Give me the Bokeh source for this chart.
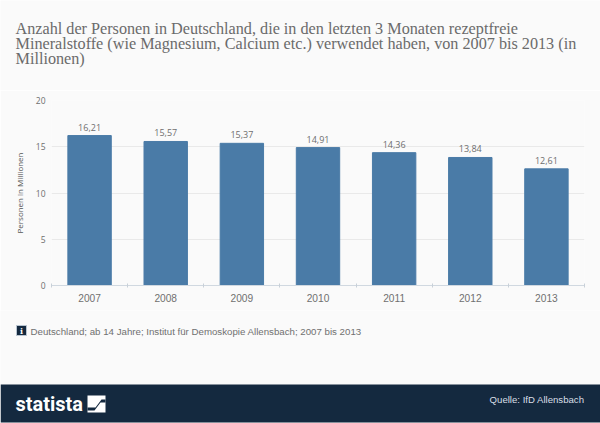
from bokeh.plotting import figure
from bokeh.models import ColumnDataSource, FixedTicker, Range1d
from bokeh.core.properties import value
from bokeh.embed import file_html
from bokeh.resources import INLINE

years = [2007, 2008, 2009, 2010, 2011, 2012, 2013]
values = [16.21, 15.57, 15.37, 14.91, 14.36, 13.84, 12.61]
labels = ["16,21", "15,57", "15,37", "14,91", "14,36", "13,84", "12,61"]
y_ticks = [0, 5, 10, 15, 20]
title_lines = [
    "Anzahl der Personen in Deutschland, die in den letzten 3 Monaten rezeptfreie",
    "Mineralstoffe (wie Magnesium, Calcium etc.) verwendet haben, von 2007 bis 2013 (in",
    "Millionen)",
]
note = "Deutschland; ab 14 Jahre; Institut für Demoskopie Allensbach; 2007 bis 2013"
source_text = "Quelle: IfD Allensbach"
y_title = "Personen in Millionen"

W = 600
BG = "#fafafa"
NAVY = "#14293f"
HEAD_H, CHART_H, FOOT_H = 90, 220, 113


def place(f, top):
    f.styles = {"position": "absolute", "left": "0px", "top": f"{top}px"}


def panel(h, y0):
    f = figure(width=W, height=h, output_backend="svg", toolbar_location=None,
               x_range=Range1d(0, W), y_range=Range1d(y0 + h, y0), x_axis_type=None, y_axis_type=None,
               min_border_left=0, min_border_right=0, min_border_top=0, min_border_bottom=0)
    f.background_fill_color = BG
    f.background_fill_alpha = 1
    f.border_fill_color = BG
    f.border_fill_alpha = 1
    f.outline_line_color = None
    f.grid.visible = False
    place(f, y0)
    return f


def txt(f, x, y, s, font, size, color, align="left", style="normal"):
    f.text(x=[x], y=[y], text=[s], text_font=value(font), text_font_size=value(size), text_color=color,
           text_align=align, text_baseline="middle", text_font_style=style)


# header
head = panel(HEAD_H, 0)
for i, line in enumerate(title_lines):
    txt(head, 15, 28 + i * 15, line, "Liberation Serif", "16.2px", "#6b6b6b")

# chart
L, R, T, B = 51, 16, 10, 25
p = figure(width=W, height=CHART_H, output_backend="svg", toolbar_location=None,
           x_range=Range1d(years[0] - 0.5, years[-1] + 0.5), y_range=Range1d(0, 20),
           min_border_left=L, min_border_right=R, min_border_top=T, min_border_bottom=B)
place(p, HEAD_H)
p.background_fill_color = BG
p.background_fill_alpha = 1
p.border_fill_color = BG
p.border_fill_alpha = 1
p.outline_line_color = None

src = ColumnDataSource(dict(x=years, top=values, label=labels))
p.vbar(x="x", top="top", width=0.57, color="#4a7ba7", source=src)
p.text(x="x", y="top", text="label", source=src, text_align="center", text_baseline="bottom",
       y_offset=-5, text_font=value("Open Sans"), text_font_size="9px", text_color="#6e6e6e")

p.xgrid.visible = False
p.ygrid.grid_line_color = "#e9e9e9"
p.ygrid.ticker = FixedTicker(ticks=y_ticks)
p.yaxis.ticker = FixedTicker(ticks=y_ticks)
p.yaxis.axis_line_color = None
p.yaxis.major_tick_line_color = None
p.yaxis.major_tick_out = 0
p.yaxis.minor_tick_line_color = None
p.yaxis.major_label_text_font = "Open Sans"
p.yaxis.major_label_text_font_size = "8.5px"
p.yaxis.major_label_text_color = "#6e6e6e"
p.yaxis.major_label_standoff = 6
p.yaxis.axis_label = y_title
p.yaxis.axis_label_text_font = "Open Sans"
p.yaxis.axis_label_text_font_size = "8px"
p.yaxis.axis_label_text_font_style = "normal"
p.yaxis.axis_label_text_color = "#555555"
p.yaxis.axis_label_standoff = 8
p.xaxis.ticker = FixedTicker(ticks=years, minor_ticks=[y - 0.5 for y in years] + [years[-1] + 0.5])
p.xaxis.axis_line_color = "#d0d8e0"
p.xaxis.major_tick_line_color = None
p.xaxis.major_tick_out = 0
p.xaxis.minor_tick_line_color = "#c8d0d8"
p.xaxis.minor_tick_out = 2
p.xaxis.minor_tick_in = 2
p.xaxis.major_label_text_font = "Liberation Sans"
p.xaxis.major_label_text_font_size = "10.2px"
p.xaxis.major_label_text_color = "#707070"
p.xaxis.major_label_standoff = 6

# footer
y0 = HEAD_H + CHART_H
foot = panel(FOOT_H, y0)
foot.quad(left=[16], right=[26], top=[325], bottom=[335], fill_color=NAVY, line_color="#b8c4d0")
txt(foot, 21, 330, "i", "DejaVu Serif", "8px", "#ffffff", align="center", style="bold")
txt(foot, 30, 331, note, "Liberation Sans", "9.7px", "#707070")
foot.quad(left=[0], right=[W], top=[384], bottom=[422], fill_color=NAVY, line_color=None)
txt(foot, 15, 403, "statista", "Roboto", "20px", "#ffffff", style="bold")
foot.patch(x=[87, 105, 105, 87], y=[395, 395, 412, 412], fill_color="#ffffff", line_color=None)
foot.patch(x=[87, 95, 101, 105, 105, 100, 94, 87], y=[407, 407, 399, 399, 402, 402, 410, 410],
           fill_color=NAVY, line_color=None)
txt(foot, 584, 399, source_text, "Liberation Sans", "9.6px", "#d8dfe6", align="right")

open("out.html", "w").write(file_html([head, p, foot], INLINE))
